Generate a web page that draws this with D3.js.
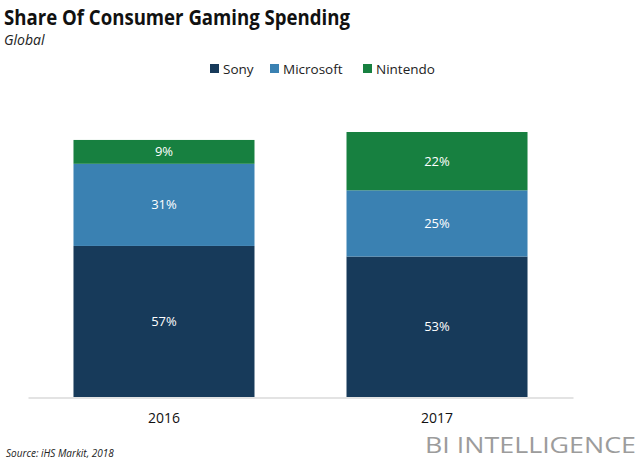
<!DOCTYPE html>
<html><head><meta charset="utf-8">
<script src="https://cdn.jsdelivr.net/npm/d3@7"></script>
<style>body{margin:0;background:#fff}svg{display:block}</style>
</head><body>
<svg id="c" width="640" height="460"></svg>
<script>
const years = ["2016", "2017"];
const seriesNames = ["Sony", "Microsoft", "Nintendo"];
const sony = [57, 53];
const microsoft = [31, 25];
const nintendo = [9, 22];
const colors = ["#173a5a", "#3a81b2", "#178040"];

const rows = years.map((y, i) => ({year: y, Sony: sony[i], Microsoft: microsoft[i], Nintendo: nintendo[i]}));
const stack = d3.stack().keys(seriesNames)(rows);

const svg = d3.select("#c");
const font = "'Open Sans', 'Noto Sans', sans-serif";

const x = d3.scaleBand().domain(years).range([28, 573]).paddingInner(0.337).paddingOuter(0.1666);
const y = d3.scaleLinear().domain([0, 100]).range([397, 132]);
const color = d3.scaleOrdinal().domain(seriesNames).range(colors);

svg.append("text").attr("x", 4).attr("y", 25).attr("font-family", font).attr("font-weight", 700)
  .attr("font-size", 21).attr("fill", "#111").attr("textLength", 346).attr("lengthAdjust", "spacingAndGlyphs")
  .text("Share Of Consumer Gaming Spending");
svg.append("text").attr("x", 4).attr("y", 45).attr("font-family", font).attr("font-style", "italic")
  .attr("font-size", 14).attr("fill", "#222").text("Global");

// legend
const legX = [210, 270, 363];
const leg = svg.append("g").selectAll("g").data(seriesNames).join("g")
  .attr("transform", (d, i) => `translate(${legX[i]},62)`);
leg.append("rect").attr("width", 9).attr("height", 9).attr("y", 2).attr("fill", d => color(d));
leg.append("text").attr("x", 13).attr("y", 11.5).attr("font-family", font).attr("font-size", 13.5)
  .attr("fill", "#222").text(d => d);

const g = svg.append("g");
stack.forEach(s => {
  g.selectAll(null).data(s).join("rect")
    .attr("x", d => x(d.data.year)).attr("width", x.bandwidth())
    .attr("y", d => y(d[1])).attr("height", d => y(d[0]) - y(d[1]))
    .attr("fill", color(s.key));
  g.selectAll(null).data(s).join("text")
    .attr("x", d => x(d.data.year) + x.bandwidth() / 2)
    .attr("y", d => (y(d[0]) + y(d[1])) / 2 + 4.5)
    .attr("text-anchor", "middle").attr("font-family", font).attr("font-size", 13)
    .attr("fill", "#fff").text(d => (d[1] - d[0]) + "%");
});

// axis
const ax = svg.append("g").attr("transform", "translate(0,397.5)")
  .call(d3.axisBottom(x).tickSize(0).tickPadding(16));
ax.select(".domain").attr("stroke", "#c8c8c8").attr("stroke-width", 1.2);
ax.selectAll("text").attr("font-family", font).attr("font-size", 14).attr("fill", "#111");

svg.append("text").attr("x", 6).attr("y", 457).attr("font-family", font).attr("font-style", "italic")
  .attr("font-size", 10).attr("fill", "#222").text("Source: iHS Markit, 2018");
svg.append("text").attr("x", 425).attr("y", 453).attr("font-family", font)
  .attr("font-size", 21).attr("fill", "#9c9c9c")
  .attr("textLength", 211).attr("lengthAdjust", "spacingAndGlyphs")
  .text("BI INTELLIGENCE");
</script>
</body></html>
